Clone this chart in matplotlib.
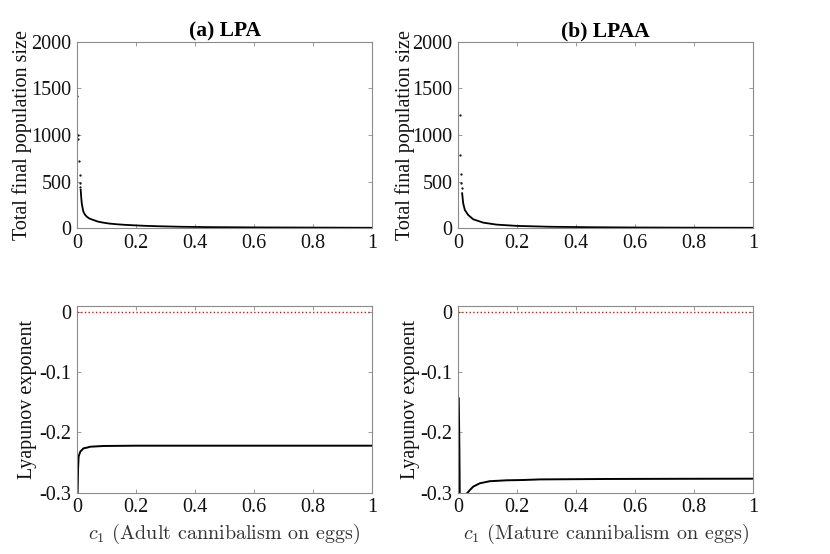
import numpy as np
import matplotlib
matplotlib.use('Agg')
import matplotlib.pyplot as plt

plt.rcParams['font.family'] = ['Liberation Serif', 'DejaVu Serif']
plt.rcParams['mathtext.fontset'] = 'cm'
plt.rcParams['axes.unicode_minus'] = False

# (a) LPA, top: isolated points at small c1 and the decaying curve
lpa_dot_c = [0.001, 0.004, 0.005, 0.007, 0.0085, 0.010, 0.011]
lpa_dot_pop = [1421, 1000, 954, 721, 571, 489, 445]
lpa_c = [0.0125, 0.014, 0.016, 0.019, 0.0215, 0.026, 0.033, 0.042, 0.055, 0.07, 0.089,
         0.11, 0.134, 0.16, 0.19, 0.23, 0.28, 0.35, 0.45, 0.6, 0.8, 1.0]
lpa_pop = [411, 340, 268, 215, 178, 150, 124, 104, 89, 72, 60,
           50, 43, 37, 32, 26, 21, 16, 12, 9, 7, 5]

# (b) LPAA, top
lpaa_dot_c = [0.0058, 0.0062, 0.008, 0.010, 0.0115]
lpaa_dot_pop = [1214, 785, 582, 482, 430]
lpaa_c = [0.0135, 0.017, 0.0226, 0.034, 0.051, 0.085, 0.13, 0.2, 0.31, 0.45, 0.6, 0.8, 1.0]
lpaa_pop = [375, 268, 196, 142, 96, 60, 39, 25, 16, 11, 8, 6, 5]

# Lyapunov exponents
lyap_lpa_c = [0.001, 0.002, 0.0034, 0.0054, 0.011, 0.022, 0.033, 0.045, 0.09, 0.2, 0.4, 0.6, 0.8, 1.0]
lyap_lpa = [-0.31, -0.30, -0.262, -0.240, -0.232, -0.2265, -0.2254, -0.2238, -0.2226,
            -0.2221, -0.2221, -0.2221, -0.2221, -0.2221]
lyap_lpaa_c = [0.002, 0.004, 0.006, 0.02, 0.03, 0.04, 0.051, 0.073, 0.107, 0.164, 0.22, 0.277,
               0.5, 0.75, 1.0]
lyap_lpaa = [-0.1436, -0.22, -0.34, -0.315, -0.301, -0.2955, -0.290, -0.2845, -0.281, -0.2795,
             -0.279, -0.278, -0.2773, -0.277, -0.2768]

titles = ['(a) LPA', '(b) LPAA']
xlabels = ['Adult cannibalism on eggs', 'Mature cannibalism on eggs']
xticks = [0, 0.2, 0.4, 0.6, 0.8, 1]
xticklabels = ['0', '0.2', '0.4', '0.6', '0.8', '1']
pop_ticks = [0, 500, 1000, 1500, 2000]
lyap_ticks = [-0.3, -0.2, -0.1, 0]
lyap_ticklabels = ['-0.3', '-0.2', '-0.1', '0']

spine_col = '#8a8a8a'
fs = 14.5

fig = plt.figure(figsize=(8.3, 5.54), dpi=100)
lefts = [0.0928, 0.552]
w = 0.3554
ax_top = [fig.add_axes([l, 0.588, w, 0.337]) for l in lefts]
ax_bot = [fig.add_axes([l, 0.1107, w, 0.3375]) for l in lefts]


def style(ax):
    for s in ax.spines.values():
        s.set_color(spine_col)
        s.set_linewidth(0.8)
    ax.tick_params(direction='in', length=3, width=0.6, color=spine_col,
                   top=True, right=True, labelsize=fs, labelcolor='#111111', pad=4)
    ax.set_xlim(0, 1)
    ax.set_xticks(xticks)
    ax.set_xticklabels(xticklabels)


tops = [(lpa_dot_c, lpa_dot_pop, lpa_c, lpa_pop), (lpaa_dot_c, lpaa_dot_pop, lpaa_c, lpaa_pop)]
for i, ax in enumerate(ax_top):
    dc, dp, cc, cp = tops[i]
    ax.plot(dc, dp, '.', color='k', markersize=1.2)
    ax.plot(cc, cp, '-', color='k', linewidth=1.3)
    style(ax)
    ax.set_ylim(0, 2000)
    ax.set_yticks(pop_ticks)
    ax.set_title(titles[i], fontsize=15.5, fontweight='bold', pad=4)
    ax.set_ylabel('Total final population size', fontsize=fs, color='#111111')
ax_top[0].yaxis.set_label_coords(-0.153, 0.5)
ax_top[1].yaxis.set_label_coords(-0.147, 0.5)

bots = [(lyap_lpa_c, lyap_lpa), (lyap_lpaa_c, lyap_lpaa)]
for i, ax in enumerate(ax_bot):
    cc, ly = bots[i]
    ax.axhline(0, color='red', linestyle=':', linewidth=1)
    ax.plot(cc, ly, '-', color='k', linewidth=1.4)
    style(ax)
    ax.set_ylim(-0.3, 0.01)
    ax.set_yticks(lyap_ticks)
    ax.set_yticklabels(lyap_ticklabels)
    ax.set_ylabel('Lyapunov exponent', fontsize=fs, color='#111111')
    ax.set_xlabel(r'$c_1$ (' + xlabels[i] + ')', fontsize=fs, family='cmr10',
                  color='#333333', labelpad=3)
ax_bot[0].yaxis.set_label_coords(-0.136, 0.5)
ax_bot[1].yaxis.set_label_coords(-0.13, 0.5)

fig.savefig('out.png', dpi=100)
